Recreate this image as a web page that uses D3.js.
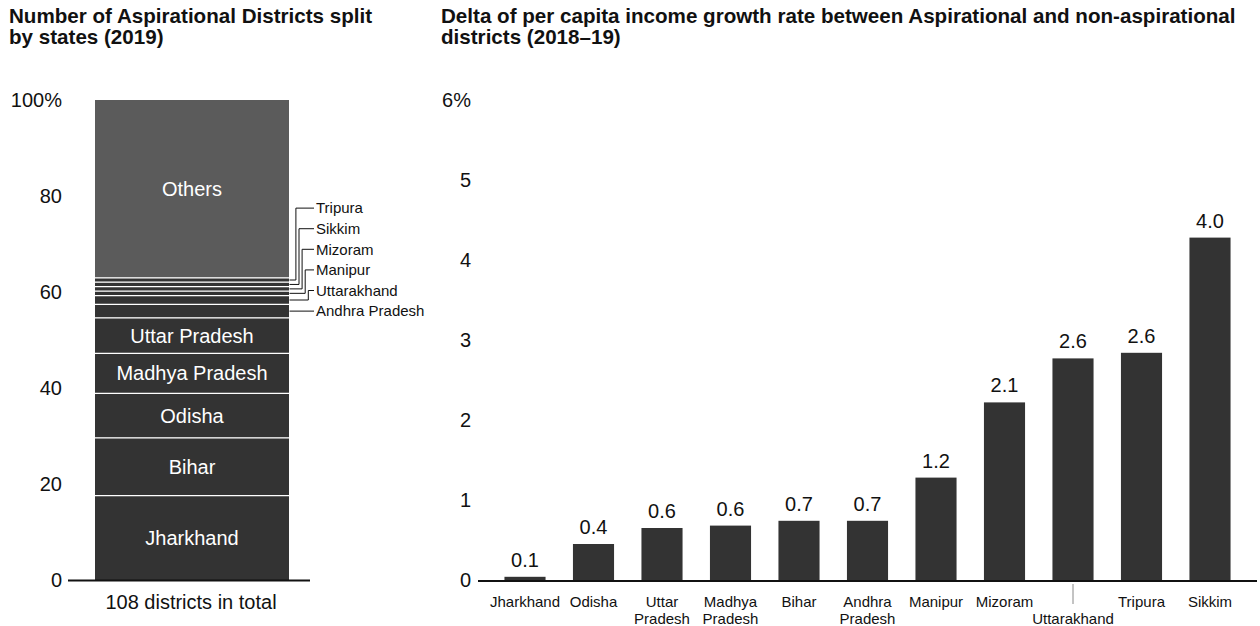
<!DOCTYPE html>
<html><head><meta charset="utf-8">
<script src="https://cdn.jsdelivr.net/npm/d3@7"></script>
<style>
body{margin:0;background:#fff}
svg{display:block}
text{font-family:"Liberation Sans", Arial, Helvetica, sans-serif}
</style>
</head><body><svg id="c"></svg>
<script>
// ---------- data ----------
const states = ["Jharkhand","Bihar","Odisha","Madhya Pradesh","Uttar Pradesh","Andhra Pradesh","Uttarakhand","Manipur","Mizoram","Sikkim","Tripura","Others"];
const districts = [19,13,10,9,8,3,2,1,1,1,1,40];
const leftTicks = [0,20,40,60,80,100];

const incomeStates = ["Jharkhand","Odisha","Uttar Pradesh","Madhya Pradesh","Bihar","Andhra Pradesh","Manipur","Mizoram","Uttarakhand","Tripura","Sikkim"];
const barValues = [0.04,0.45,0.65,0.68,0.74,0.74,1.28,2.22,2.77,2.84,4.28];
const valueLabels = ["0.1","0.4","0.6","0.6","0.7","0.7","1.2","2.1","2.6","2.6","4.0"];
const rightTicks = [0,1,2,3,4,5,6];

// ---------- setup ----------
const W = 1260, H = 626;
const ink = "#111", dark = "#333333", grey = "#5b5b5b";
const svg = d3.select("#c").attr("width", W).attr("height", H);

function title(x, lines){
  const t = svg.append("text").attr("x", x).attr("y", 23)
    .attr("font-weight", "bold").attr("font-size", 20.6).attr("fill", ink);
  lines.forEach((l, i) => t.append("tspan").attr("x", x).attr("dy", i ? 20.5 : 0).text(l));
}
title(9, ["Number of Aspirational Districts split", "by states (2019)"]);
title(441, ["Delta of per capita income growth rate between Aspirational and non-aspirational", "districts (2018\u201319)"]);

// ---------- left: stacked bar ----------
const total = d3.sum(districts);
const yL = d3.scaleLinear().domain([0, 100]).range([580, 100]);
let cum = 0;
const segs = states.map((s, i) => {
  const a = cum; cum += districts[i];
  return {name: s, n: districts[i], y0: a / total * 100, y1: cum / total * 100};
});
const bx0 = 95, bx1 = 289, bcx = (bx0 + bx1) / 2;
const gL = svg.append("g");
gL.selectAll("rect").data(segs).join("rect")
  .attr("x", bx0).attr("width", bx1 - bx0)
  .attr("y", d => yL(d.y1)).attr("height", d => yL(d.y0) - yL(d.y1))
  .attr("fill", d => d.name === "Others" ? grey : dark);
gL.selectAll("line.sep").data(segs.slice(1)).join("line").attr("class", "sep")
  .attr("x1", bx0).attr("x2", bx1)
  .attr("y1", d => yL(d.y0)).attr("y2", d => yL(d.y0))
  .attr("stroke", "#fff").attr("stroke-width", 1.3);

const big = segs.filter(d => d.n >= 8);
gL.selectAll("text.in").data(big).join("text").attr("class", "in")
  .attr("x", bcx).attr("y", d => yL((d.y0 + d.y1) / 2) + 7)
  .attr("text-anchor", "middle").attr("font-size", 20).attr("fill", "#fff")
  .text(d => d.name);

const small = segs.filter(d => d.n < 8);
const baseMid = yL((small[0].y0 + small[0].y1) / 2);
small.forEach((d, k) => {
  const mid = yL((d.y0 + d.y1) / 2);
  const ly = baseMid - 20.6 * k;
  let p;
  if (k === 0) p = `M${bx1 + 0.5},${mid}H314`;
  else {
    const ex = 308.3 - (k - 1) * 3.1;
    p = `M${bx1 + 0.5},${mid}H${ex}V${ly}H314`;
  }
  gL.append("path").attr("d", p).attr("fill", "none").attr("stroke", ink).attr("stroke-width", 1);
  gL.append("text").attr("x", 316).attr("y", ly + 5.3).attr("font-size", 15).attr("fill", ink).text(d.name);
});

const axL = gL.append("g").attr("transform", "translate(62,0)")
  .call(d3.axisLeft(yL).tickValues(leftTicks).tickSize(0).tickPadding(0)
    .tickFormat(d => d === 100 ? "100%" : d));
axL.select(".domain").remove();
axL.selectAll("text").attr("font-size", 20).attr("fill", ink).attr("dy", "0.34em")
  .style("font-family", '"Liberation Sans", Arial, sans-serif');

gL.append("line").attr("x1", 68).attr("x2", 310).attr("y1", 580.5).attr("y2", 580.5)
  .attr("stroke", ink).attr("stroke-width", 2);
gL.append("text").attr("x", 191).attr("y", 609).attr("text-anchor", "middle")
  .attr("font-size", 20).attr("fill", ink).text(`${total} districts in total`);

// ---------- right: bar chart ----------
const xR = d3.scaleBand().domain(incomeStates).range([490.75, 1244.25]).paddingInner(0.4).paddingOuter(0.2);
const yR = d3.scaleLinear().domain([0, 6]).range([580, 100]);
const gR = svg.append("g");
const rows = incomeStates.map((s, i) => ({s, v: barValues[i], lab: valueLabels[i]}));
gR.selectAll("rect").data(rows).join("rect")
  .attr("x", d => xR(d.s)).attr("width", xR.bandwidth())
  .attr("y", d => yR(d.v)).attr("height", d => yR(0) - yR(d.v))
  .attr("fill", dark);
gR.selectAll("text.val").data(rows).join("text").attr("class", "val")
  .attr("x", d => xR(d.s) + xR.bandwidth() / 2).attr("y", d => yR(d.v) - 10)
  .attr("text-anchor", "middle").attr("font-size", 20).attr("fill", ink)
  .text(d => d.lab);

const axR = gR.append("g").attr("transform", "translate(471,0)")
  .call(d3.axisLeft(yR).tickValues(rightTicks).tickSize(0).tickPadding(0)
    .tickFormat(d => d === 6 ? "6%" : d));
axR.select(".domain").remove();
axR.selectAll("text").attr("font-size", 20).attr("fill", ink).attr("dy", "0.34em")
  .style("font-family", '"Liberation Sans", Arial, sans-serif');

gR.append("line").attr("x1", 478).attr("x2", 1257).attr("y1", 581).attr("y2", 581)
  .attr("stroke", ink).attr("stroke-width", 2);

const axB = gR.append("g").attr("transform", "translate(0,581)")
  .call(d3.axisBottom(xR).tickSize(0).tickPadding(0));
axB.select(".domain").remove();
axB.selectAll(".tick").each(function(name){
  const g = d3.select(this);
  const t = g.select("text").text(null).attr("y", 0).attr("dy", null)
    .attr("font-size", 15).attr("fill", ink)
    .style("font-family", '"Liberation Sans", Arial, sans-serif');
  if (name === "Uttarakhand") {
    g.append("line").attr("x1", 0).attr("x2", 0).attr("y1", 3).attr("y2", 23)
      .attr("stroke", "#888").attr("stroke-width", 1);
    t.append("tspan").attr("x", 0).attr("y", 43).text(name);
  } else {
    name.split(" ").forEach((w, i) => t.append("tspan").attr("x", 0).attr("y", 26 + i * 17).text(w));
  }
});
</script>
</body></html>
